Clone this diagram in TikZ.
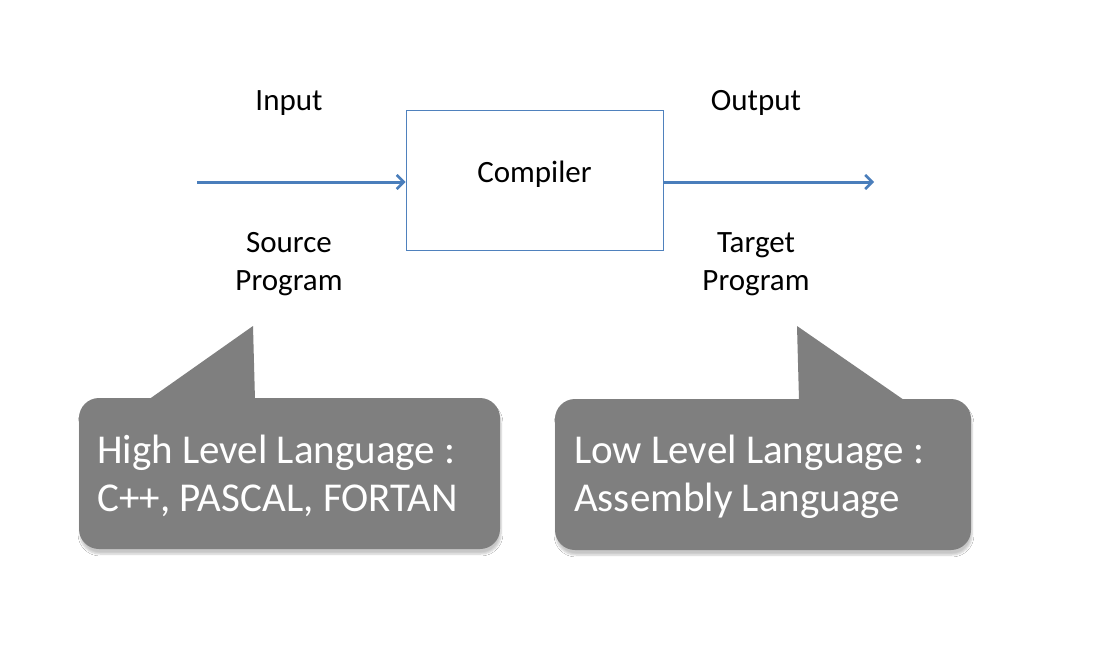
\documentclass[tikz,border=0pt]{standalone}
\usepackage{fontspec}
\setmainfont{Carlito}
\usetikzlibrary{arrows.meta,shadows.blur}
\definecolor{arrowblue}{HTML}{4A7EBB}
\definecolor{boxblue}{HTML}{4F81BD}
\definecolor{bubblegray}{HTML}{7F7F7F}
\tikzset{
  lbl/.style={font=\fontsize{31}{38}\selectfont, align=center, inner sep=0pt},
  flow/.style={draw=arrowblue, line width=3pt, -{Straight Barb[length=7pt,width=14pt,line width=2.5pt]}},
  bubble/.style={fill=bubblegray, rounded corners=20pt, minimum height=151pt, inner sep=0pt,
     blur shadow={shadow xshift=1pt, shadow yshift=-5pt, shadow blur steps=6, shadow opacity=22}},
  bubbletext/.style={text=white, align=flush left, inner sep=0pt, font=\fontsize{41}{48}\selectfont, anchor=west},
  pointer/.style={fill=bubblegray}
}
\begin{document}
\begin{tikzpicture}[x=1pt,y=-1pt]
\useasboundingbox (0,0) rectangle (1093,648);
\fill[white] (0,0) rectangle (1093,648);
% compiler box
\node[draw=boxblue, line width=1pt, minimum width=257pt, minimum height=140pt, inner sep=0pt] (comp) at (534.5,180) {};
\node[lbl] (comptext) at (534.5,174) {Compiler};
\coordinate (inStart) at (197,182);
\coordinate (outEnd) at (874,182);
\draw[flow] (inStart) -- (comp.west |- inStart);
\draw[flow] (comp.east |- outEnd) -- (outEnd);
\node[lbl] (input) at (289,103) {Input};
\node[lbl] (output) at (756,103) {Output};
\node[lbl] (src) at (289,264) {Source\\[-0.5pt]Program};
\node[lbl] (tgt) at (756,264) {Target\\[-0.5pt]Program};
% bubbles
\node[bubble, minimum width=421pt] (hl) at (289.5,473.5) {};
\node[bubble, minimum width=416pt] (ll) at (763,474.5) {};
\coordinate (hlTip) at (253,326);
\coordinate (llTip) at (797,326);
\fill[pointer] (148,400) -- (hlTip) -- (255,400) -- cycle;
\fill[pointer] (llTip) -- (799,400) -- (904,400) -- cycle;
\node[bubbletext] (hltext) at (97,478) {\strut High Level Language :\\\strut C++, PASCAL, FORTAN};
\node[bubbletext] (lltext) at (574,478) {\strut Low Level Language :\\\strut Assembly Language};
\end{tikzpicture}
\end{document}
